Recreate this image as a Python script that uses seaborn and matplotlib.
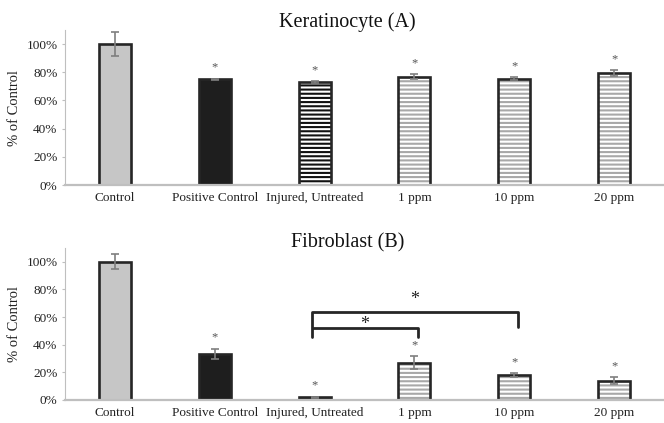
import numpy as np
import pandas as pd
import matplotlib.pyplot as plt
from matplotlib.ticker import PercentFormatter
import seaborn as sns

# values (fraction of control)
categories = ["Control", "Positive Control", "Injured, Untreated", "1 ppm", "10 ppm", "20 ppm"]
kera_mean = [1.00, 0.75, 0.73, 0.77, 0.755, 0.795]
kera_err = [0.085, 0.005, 0.007, 0.015, 0.01, 0.02]
fibro_mean = [1.00, 0.335, 0.02, 0.27, 0.18, 0.14]
fibro_err = [0.053, 0.037, 0.005, 0.045, 0.015, 0.025]
significant = [False, True, True, True, True, True]

# pairwise comparisons on the fibroblast panel
bracket_from = ["Injured, Untreated", "Injured, Untreated"]
bracket_to = ["1 ppm", "10 ppm"]
bracket_top = [0.52, 0.635]
bracket_low = [0.455, 0.53]
bracket_star = [0.545, 0.725]

# styling
fills = ["#c6c6c6", "#1e1e1e", "#ffffff", "#ffffff", "#ffffff", "#ffffff"]
hatches = ["", "", "----", "----", "----", "----"]
hatch_colors = ["#c6c6c6", "#1e1e1e", "#111111", "#a8a8a8", "#a8a8a8", "#a8a8a8"]
edge = "#262626"
axis_gray = "#bfbfbf"

sns.set_style("white")
plt.rcParams["font.family"] = ["Liberation Serif", "DejaVu Serif"]
plt.rcParams["hatch.linewidth"] = 1.5


def panel(ax, means, errs, title, title_pad):
    df = pd.DataFrame({"cat": categories, "val": means})
    sns.barplot(data=df, x="cat", y="val", hue="cat", palette=fills, width=0.32,
                saturation=1, linewidth=0, errorbar=None, legend=False, ax=ax)
    for p, h, hc in zip(ax.patches, hatches, hatch_colors):
        p.set_hatch(h)
        p.set_edgecolor(hc)
    # outlines on top of the hatch layer
    sns.barplot(data=df, x="cat", y="val", fill=False, color=edge, width=0.32,
                linewidth=1.9, errorbar=None, ax=ax)
    x = np.arange(len(categories))
    ax.errorbar(x, means, yerr=errs, fmt="none", ecolor="#7f7f7f", elinewidth=1.2,
                capsize=3, capthick=1.2, zorder=3)
    for xi, m, e, s in zip(x, means, errs, significant):
        if s:
            ax.text(xi, m + e + 0.08, "*", ha="center", va="center",
                    fontsize=9, color="#555555")
    ax.set_ylim(0, 1.1)
    ax.set_xlim(-0.5, len(categories) - 0.5)
    ax.set_yticks(np.arange(0, 1.01, 0.2))
    ax.yaxis.set_major_formatter(PercentFormatter(1.0, decimals=0))
    ax.set_xlabel("")
    ax.set_ylabel("% of Control", fontsize=10.5, color="#222222", labelpad=4)
    ax.set_title(title, fontsize=14.5, x=0.472, pad=title_pad, color="#111111")
    sns.despine(ax=ax)
    for side in ["left", "bottom"]:
        ax.spines[side].set_color(axis_gray)
        ax.spines[side].set_zorder(5)
    ax.spines["bottom"].set_linewidth(1.6)
    ax.tick_params(axis="x", length=0, pad=5, labelsize=9.5, labelcolor="#222222")
    ax.tick_params(axis="y", length=2.5, width=0.8, color=axis_gray, pad=3,
                   labelsize=9.5, labelcolor="#222222", left=True)


fig = plt.figure(figsize=(6.64, 4.23), dpi=100)
ax1 = fig.add_axes([0.098, 0.5626, 0.902, 0.3664])
ax2 = fig.add_axes([0.098, 0.0544, 0.902, 0.3593])

panel(ax1, kera_mean, kera_err, "Keratinocyte (A)", 2)
panel(ax2, fibro_mean, fibro_err, "Fibroblast (B)", 0.5)

for a, b, top, low, star in zip(bracket_from, bracket_to, bracket_top, bracket_low, bracket_star):
    x0 = categories.index(a) - 0.03
    x1 = categories.index(b) + 0.04
    ax2.plot([x0, x0, x1, x1], [low, top, top, low], color=edge, lw=2,
             solid_joinstyle="round", zorder=4)
    ax2.text((x0 + x1) / 2, star, "*", ha="center", va="center",
             fontsize=13, color="#222222")

fig.savefig("out.png", dpi=100)
